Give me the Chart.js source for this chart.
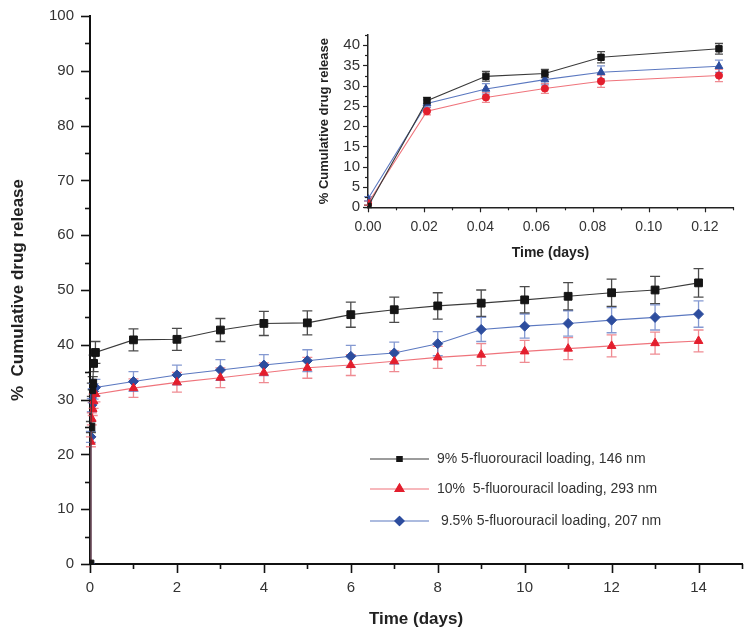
<!DOCTYPE html>
<html>
<head>
<meta charset="utf-8">
<script src="https://cdn.jsdelivr.net/npm/chart.js@4.4.1/dist/chart.umd.min.js"></script>
<style>
  html, body { margin: 0; padding: 0; background: #fff; }
  #wrap { position: relative; width: 753px; height: 640px; }
  #mainChart { position: absolute; left: 0; top: 0; }
  #insetChart { position: absolute; left: 305px; top: 20px; }
</style>
</head>
<body>
<div id="wrap">
  <canvas id="mainChart" width="753" height="640"></canvas>
  <canvas id="insetChart" width="445" height="250"></canvas>
</div>
<script>
// main plot: time in days
const mainDays = [0, 0.021, 0.042, 0.063, 0.083, 0.125, 1, 2, 3, 4, 5, 6, 7, 8, 9, 10, 11, 12, 13, 14];
const black9 = [0, 25.0, 31.8, 33.0, 36.6, 38.6, 40.9, 41.0, 42.7, 43.9, 44.0, 45.5, 46.4, 47.1, 47.6, 48.2, 48.85, 49.5, 50.0, 51.3];
const black9Err = [0, 1.0, 1.2, 1.2, 1.5, 2.0, 2.0, 2.0, 2.1, 2.2, 2.2, 2.3, 2.3, 2.4, 2.4, 2.4, 2.5, 2.5, 2.5, 2.6];
const red10 = [0, 22.3, 26.5, 28.3, 29.7, 31.0, 32.1, 33.15, 34.0, 34.9, 35.8, 36.3, 37.0, 37.7, 38.2, 38.8, 39.3, 39.8, 40.3, 40.7];
const red10Err = [0, 0.9, 1.1, 1.2, 1.3, 1.4, 1.7, 1.8, 1.8, 1.8, 1.9, 1.9, 1.9, 2.0, 2.0, 2.0, 2.0, 2.0, 2.0, 2.0];
const blue95 = [0, 23.2, 29.0, 30.7, 31.5, 32.2, 33.3, 34.5, 35.4, 36.3, 37.1, 37.9, 38.5, 40.2, 42.8, 43.4, 43.9, 44.5, 45.0, 45.6];
const blue95Err = [0, 1.0, 1.2, 1.3, 1.4, 1.5, 1.8, 1.8, 1.9, 1.9, 2.0, 2.0, 2.0, 2.2, 2.2, 2.2, 2.3, 2.3, 2.3, 2.4];

// inset: first 3 hours
const insetDays = [0, 0.021, 0.042, 0.063, 0.083, 0.125];
const insetBlack = [0.2, 26.3, 32.3, 33.0, 37.0, 39.1];
const insetBlackErr = [0.3, 0.8, 1.2, 1.0, 1.4, 1.3];
const insetRed = [1.0, 23.7, 27.1, 29.3, 31.1, 32.5];
const insetRedErr = [0.5, 0.9, 1.2, 1.2, 1.5, 1.5];
const insetBlue = [2.1, 25.6, 29.2, 31.5, 33.3, 34.8];
const insetBlueErr = [0.5, 0.9, 1.3, 1.3, 1.6, 1.5];

const seriesLabels = ['9% 5-fluorouracil loading, 146 nm', '10%  5-fluorouracil loading, 293 nm', ' 9.5% 5-fluorouracil loading, 207 nm'];

const FONT = "'Liberation Sans', Arial, sans-serif";
const lineCol = ['#3a3a3a', 'rgba(236,90,100,0.85)', '#5b78c0'];
const markCol = ['#151515', '#e31e2d', '#2d4d9e'];
const errCol = ['rgba(30,30,30,0.8)', 'rgba(232,90,100,0.7)', 'rgba(80,110,190,0.7)'];

function pts(xs, ys) {
  return xs.map((x, i) => ({ x: x, y: ys[i] }));
}

// error bars drawn from the chart's own scales
const errorBars = {
  id: 'errorBars',
  beforeDatasetsDraw(chart, args, opts) {
    const ctx = chart.ctx;
    const xs = chart.scales.x, ys = chart.scales.y;
    chart.data.datasets.forEach((ds, di) => {
      const errs = opts.errors[di];
      ctx.save();
      ctx.strokeStyle = errCol[di];
      ctx.lineWidth = 1.3;
      ds.data.forEach((p, i) => {
        const e = errs[i];
        if (!e) return;
        const px = xs.getPixelForValue(p.x);
        const top = ys.getPixelForValue(p.y + e);
        const bot = ys.getPixelForValue(p.y - e);
        const w = opts.cap;
        ctx.beginPath();
        ctx.moveTo(px, top); ctx.lineTo(px, bot);
        ctx.moveTo(px - w, top); ctx.lineTo(px + w, top);
        ctx.moveTo(px - w, bot); ctx.lineTo(px + w, bot);
        ctx.stroke();
      });
      ctx.restore();
    });
  }
};

// outward tick marks, long on labelled ticks, short on the others
const tickMarks = {
  id: 'tickMarks',
  afterDraw(chart, args, opts) {
    const ctx = chart.ctx;
    ctx.save();
    ctx.strokeStyle = opts.color;
    ctx.lineWidth = opts.width;
    const xs = chart.scales.x, ys = chart.scales.y;
    xs.ticks.forEach(t => {
      const px = Math.round(xs.getPixelForValue(t.value)) + 0.5;
      const len = t.label !== '' ? opts.major : opts.minor;
      ctx.beginPath();
      ctx.moveTo(px, xs.top);
      ctx.lineTo(px, xs.top + len);
      ctx.stroke();
    });
    ys.ticks.forEach(t => {
      const py = Math.round(ys.getPixelForValue(t.value)) + 0.5;
      const len = t.label !== '' ? opts.major : opts.minor;
      ctx.beginPath();
      ctx.moveTo(ys.right, py);
      ctx.lineTo(ys.right - len, py);
      ctx.stroke();
    });
    ctx.restore();
  }
};

// legend inside the main plot
const boxLegend = {
  id: 'boxLegend',
  afterDraw(chart, args, opts) {
    const ctx = chart.ctx;
    ctx.save();
    chart.data.datasets.forEach((ds, i) => {
      const y = opts.rows[i];
      ctx.strokeStyle = ds.borderColor;
      ctx.lineWidth = 1.2;
      ctx.beginPath();
      ctx.moveTo(opts.x0, y);
      ctx.lineTo(opts.x1, y);
      ctx.stroke();
      Chart.helpers.drawPoint(ctx, {
        pointStyle: ds.pointStyle,
        radius: opts.radius[i],
        rotation: 0,
        borderWidth: 1
      }, (opts.x0 + opts.x1) / 2, y);
      ctx.fillStyle = ds.pointBackgroundColor;
      ctx.strokeStyle = ds.pointBorderColor;
      ctx.fill();
      ctx.stroke();
      ctx.fillStyle = '#333';
      ctx.font = '14px ' + FONT;
      ctx.textBaseline = 'middle';
      ctx.fillText(ds.label, opts.textX, y);
    });
    ctx.restore();
  }
};

function makeSet(label, data, idx, style, radius) {
  return {
    label: label,
    data: data,
    borderColor: lineCol[idx],
    borderWidth: 1.1,
    pointStyle: style,
    pointRadius: radius,
    pointBackgroundColor: markCol[idx],
    pointBorderColor: markCol[idx],
    pointBorderWidth: 1,
    tension: 0
  };
}

Chart.defaults.font.family = FONT;
Chart.defaults.color = '#333';

new Chart(document.getElementById('mainChart'), {
  type: 'line',
  data: {
    datasets: [
      makeSet(seriesLabels[0], pts(mainDays, black9), 0, 'rect', 5.5),
      makeSet(seriesLabels[1], pts(mainDays, red10), 1, 'triangle', 5),
      makeSet(seriesLabels[2], pts(mainDays, blue95), 2, 'rectRot', 5)
    ]
  },
  options: {
    responsive: false,
    animation: false,
    layout: { padding: { top: 14, right: 11, left: 0, bottom: 0 } },
    plugins: {
      legend: { display: false },
      tooltip: { enabled: false },
      errorBars: { errors: [black9Err, red10Err, blue95Err], cap: 5 },
      tickMarks: { color: '#111', width: 1.6, major: 9, minor: 5 },
      boxLegend: { x0: 370, x1: 429, textX: 437, rows: [459, 489, 521], radius: [3.5, 5, 4.5] }
    },
    scales: {
      x: {
        type: 'linear',
        min: 0,
        max: 15,
        afterFit: s => { s.height = 76; },
        grid: { display: false, drawTicks: true, tickLength: 9 },
        border: { display: true, color: '#111', width: 2 },
        ticks: {
          stepSize: 1,
          autoSkip: false,
          maxRotation: 0,
          padding: 6,
          font: { size: 15 },
          callback: v => (v % 2 === 0 && v < 15) ? String(v) : ''
        },
        title: {
          display: true,
          text: 'Time (days)',
          color: '#222',
          font: { size: 17, weight: 'bold' },
          padding: { top: 0, bottom: 10 }
        }
      },
      y: {
        min: 0,
        max: 100,
        afterFit: s => { s.width = 90; },
        grid: { display: false, drawTicks: true, tickLength: 9 },
        border: { display: true, color: '#111', width: 2 },
        ticks: {
          stepSize: 5,
          autoSkip: false,
          padding: 7,
          font: { size: 15 },
          callback: v => v % 10 === 0 ? String(v) : ''
        },
        title: {
          display: true,
          text: '%  Cumulative drug release',
          color: '#222',
          font: { size: 17, weight: 'bold' },
          padding: { top: 8, bottom: 0 }
        }
      }
    }
  },
  plugins: [errorBars, tickMarks, boxLegend]
});

new Chart(document.getElementById('insetChart'), {
  type: 'line',
  data: {
    datasets: [
      makeSet(seriesLabels[0], pts(insetDays, insetBlack), 0, 'rect', 4.5),
      makeSet(seriesLabels[1], pts(insetDays, insetRed), 1, 'circle', 3.6),
      makeSet(seriesLabels[2], pts(insetDays, insetBlue), 2, 'triangle', 4.5)
    ]
  },
  options: {
    responsive: false,
    animation: false,
    layout: { padding: { top: 15, right: 17, left: 0, bottom: 0 } },
    plugins: {
      legend: { display: false },
      tooltip: { enabled: false },
      errorBars: { errors: [insetBlackErr, insetRedErr, insetBlueErr], cap: 4 },
      tickMarks: { color: '#222', width: 1.2, major: 5, minor: 3 }
    },
    scales: {
      x: {
        type: 'linear',
        min: 0,
        max: 0.13,
        afterFit: s => { s.height = 62.7; },
        grid: { display: false, drawTicks: true, tickLength: 5 },
        border: { display: true, color: '#222', width: 1.5 },
        ticks: {
          stepSize: 0.01,
          autoSkip: false,
          maxRotation: 0,
          padding: 6,
          font: { size: 14 },
          callback: v => Math.round(v * 100) % 2 === 0 ? v.toFixed(2) : ''
        },
        title: {
          display: true,
          text: 'Time (days)',
          color: '#222',
          font: { size: 14, weight: 'bold' },
          padding: { top: 0, bottom: 8 }
        }
      },
      y: {
        min: 0,
        max: 42.5,
        afterFit: s => { s.width = 63; },
        grid: { display: false, drawTicks: true, tickLength: 5 },
        border: { display: true, color: '#222', width: 1.5 },
        ticks: {
          stepSize: 2.5,
          autoSkip: false,
          padding: 3,
          font: { size: 15 },
          callback: v => v % 5 === 0 ? String(v) : ''
        },
        title: {
          display: true,
          text: '% Cumulative drug release',
          color: '#222',
          font: { size: 13, weight: 'bold' },
          padding: { top: 12, bottom: 0 }
        }
      }
    }
  },
  plugins: [errorBars, tickMarks]
});
</script>
</body>
</html>
